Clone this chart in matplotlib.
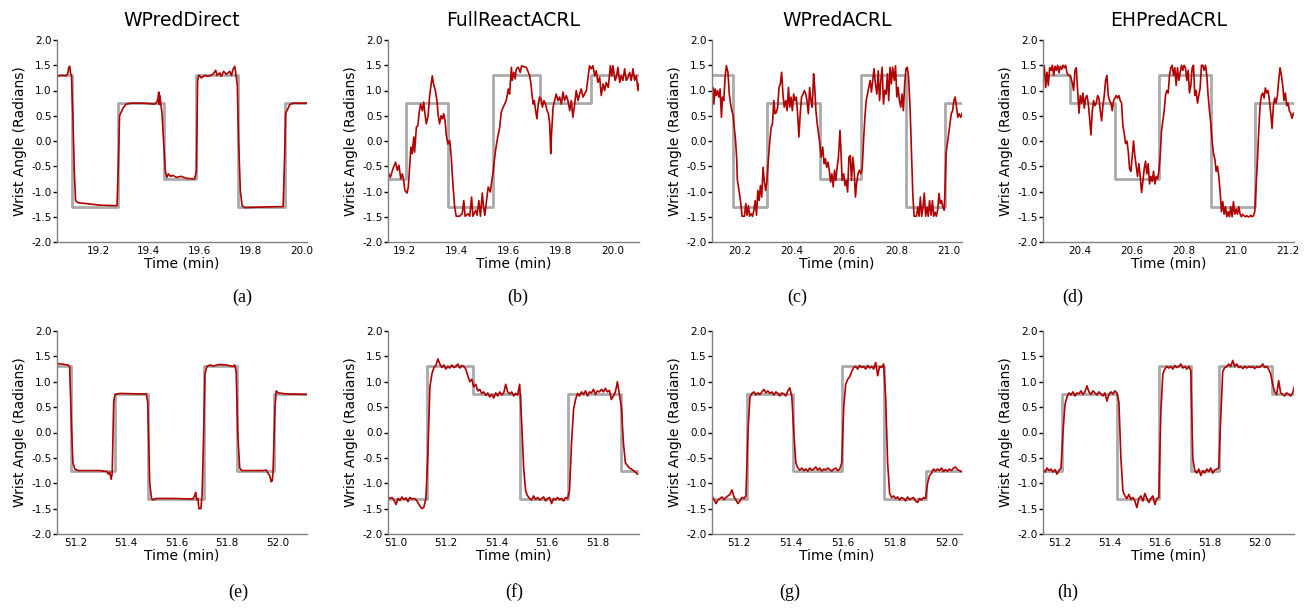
import numpy as np
import matplotlib
matplotlib.use("Agg")
import matplotlib.pyplot as plt
from matplotlib.ticker import FormatStrFormatter, MultipleLocator

# ---------------- data ----------------
titles = ["WPredDirect", "FullReactACRL", "WPredACRL", "EHPredACRL"]
sub_labels = ["(a)", "(b)", "(c)", "(d)", "(e)", "(f)", "(g)", "(h)"]

# (a)
a_time = [19.039, 19.056, 19.075, 19.081, 19.085, 19.089, 19.092, 19.096, 19.102, 19.107,
          19.112, 19.121, 19.154, 19.207, 19.259, 19.275, 19.280, 19.285, 19.292, 19.301,
          19.311, 19.331, 19.377, 19.423, 19.432, 19.436, 19.439, 19.441, 19.444, 19.448,
          19.452, 19.458, 19.465, 19.471, 19.477, 19.485, 19.495, 19.508, 19.528, 19.548,
          19.580, 19.587, 19.592, 19.597, 19.607, 19.620, 19.633, 19.652, 19.663, 19.668,
          19.679, 19.685, 19.694, 19.705, 19.718, 19.725, 19.731, 19.738, 19.743, 19.748,
          19.753, 19.760, 19.767, 19.777, 19.836, 19.902, 19.928, 19.933, 19.938, 19.945,
          19.954, 19.967, 20.022]
a_vals = [1.28, 1.30, 1.29, 1.33, 1.45, 1.48, 1.35, 1.28, 0.40, -0.60,
          -1.18, -1.22, -1.24, -1.27, -1.28, -1.28, -0.50, 0.50, 0.58, 0.67,
          0.73, 0.75, 0.75, 0.73, 0.77, 0.85, 0.97, 0.72, 0.90, 0.70,
          0.55, 0.00, -0.60, -0.72, -0.65, -0.70, -0.68, -0.72, -0.70, -0.74,
          -0.75, -0.60, 1.20, 1.30, 1.25, 1.30, 1.28, 1.32, 1.40, 1.30,
          1.35, 1.28, 1.38, 1.32, 1.38, 1.30, 1.42, 1.48, 1.30, 1.10,
          0.00, -1.00, -1.28, -1.32, -1.31, -1.30, -1.30, -0.50, 0.55, 0.62,
          0.72, 0.75, 0.75]
a_target_t = [19.039, 19.099, 19.279, 19.458, 19.587, 19.751, 19.934, 20.022]
a_target_v = [1.31, -1.31, 0.75, -0.75, 1.31, -1.31, 0.75, 0.75]

# (b)
b_time = [19.136, 19.145, 19.155, 19.165, 19.172, 19.178, 19.185, 19.191, 19.196, 19.201,
          19.209, 19.214, 19.219, 19.224, 19.229, 19.235, 19.238, 19.245, 19.251, 19.255,
          19.261, 19.268, 19.273, 19.278, 19.283, 19.290, 19.296, 19.300, 19.306, 19.311,
          19.318, 19.324, 19.329, 19.334, 19.340, 19.345, 19.350, 19.355, 19.360, 19.366,
          19.373, 19.379, 19.386, 19.392, 19.398, 19.411, 19.421, 19.427, 19.432, 19.443,
          19.450, 19.457, 19.462, 19.473, 19.478, 19.485, 19.491, 19.498, 19.503, 19.508,
          19.516, 19.521, 19.529, 19.534, 19.539, 19.543, 19.549, 19.555, 19.560, 19.565,
          19.571, 19.578, 19.584, 19.590, 19.598, 19.603, 19.610, 19.613, 19.619, 19.624,
          19.629, 19.636, 19.644, 19.649, 19.657, 19.667, 19.675, 19.680, 19.685, 19.690,
          19.694, 19.698, 19.703, 19.708, 19.713, 19.718, 19.724, 19.729, 19.735, 19.741,
          19.747, 19.752, 19.757, 19.761, 19.764, 19.770, 19.776, 19.782, 19.789, 19.795,
          19.802, 19.808, 19.814, 19.821, 19.827, 19.834, 19.840, 19.846, 19.853, 19.859,
          19.866, 19.872, 19.878, 19.885, 19.891, 19.898, 19.905, 19.910, 19.917, 19.923,
          19.930, 19.936, 19.942, 19.949, 19.955, 19.962, 19.968, 19.974, 19.982, 19.990,
          19.995, 20.000, 20.008, 20.013, 20.019, 20.026, 20.032, 20.038, 20.045, 20.051,
          20.058, 20.064, 20.070, 20.077, 20.083, 20.090, 20.096, 20.100]
b_vals = [-0.62, -0.72, -0.55, -0.42, -0.58, -0.48, -0.75, -0.65, -0.78, -0.98,
          -1.03, -0.91, -0.52, -0.12, -0.25, 0.08, -0.22, 0.27, 0.31, 0.54,
          0.73, 0.60, 0.77, 0.54, 0.34, 0.50, 0.90, 1.06, 1.29, 1.13,
          1.00, 0.80, 0.50, 0.34, 0.50, 0.44, 0.54, 0.41, 0.11, -0.06,
          0.01, -0.32, -0.91, -1.31, -1.49, -1.49, -1.44, -1.18, -1.49, -1.44,
          -1.49, -1.11, -1.49, -1.37, -1.47, -1.18, -1.49, -1.03, -1.31, -1.47,
          -1.11, -0.91, -1.01, -0.81, -0.65, -0.45, -0.19, 0.01, 0.14, 0.27,
          0.57, 0.67, 0.73, 0.80, 1.03, 0.93, 1.46, 1.20, 1.36, 1.23,
          1.43, 1.46, 1.36, 1.49, 1.47, 1.46, 1.36, 1.29, 1.13, 0.87,
          0.73, 0.80, 0.60, 0.44, 0.73, 0.87, 0.83, 0.67, 0.80, 0.73,
          0.60, 0.54, 0.34, -0.25, 0.14, 0.67, 0.80, 0.93, 0.80, 0.87,
          0.73, 0.97, 0.80, 0.90, 0.80, 0.60, 0.80, 0.47, 0.73, 1.00,
          0.80, 0.93, 1.03, 0.87, 0.93, 1.00, 1.29, 1.49, 1.43, 1.49,
          1.29, 1.39, 1.16, 1.26, 0.90, 1.13, 1.00, 1.16, 1.06, 1.49,
          1.29, 1.49, 1.20, 1.26, 1.46, 1.16, 1.29, 1.20, 1.43, 1.20,
          1.26, 1.36, 1.20, 1.43, 1.20, 1.29, 1.00, 1.13]
b_target_t = [19.136, 19.206, 19.366, 19.539, 19.718, 19.917, 20.100]
b_target_v = [-0.75, 0.75, -1.31, 1.31, 0.75, 1.31, 1.31]

# (c)
c_time = [20.095, 20.098, 20.102, 20.107, 20.111, 20.116, 20.121, 20.126, 20.131, 20.135,
          20.140, 20.145, 20.150, 20.156, 20.161, 20.166, 20.171, 20.176, 20.180, 20.185,
          20.189, 20.192, 20.196, 20.200, 20.205, 20.210, 20.219, 20.224, 20.229, 20.234,
          20.239, 20.244, 20.250, 20.255, 20.260, 20.265, 20.270, 20.275, 20.280, 20.285,
          20.290, 20.295, 20.300, 20.305, 20.310, 20.316, 20.321, 20.326, 20.331, 20.336,
          20.341, 20.346, 20.351, 20.356, 20.361, 20.366, 20.371, 20.377, 20.382, 20.387,
          20.392, 20.397, 20.402, 20.407, 20.412, 20.417, 20.422, 20.427, 20.432, 20.437,
          20.443, 20.448, 20.453, 20.458, 20.463, 20.468, 20.473, 20.478, 20.483, 20.487,
          20.492, 20.497, 20.502, 20.507, 20.512, 20.518, 20.523, 20.528, 20.533, 20.538,
          20.543, 20.548, 20.553, 20.558, 20.563, 20.568, 20.573, 20.578, 20.584, 20.587,
          20.592, 20.598, 20.603, 20.608, 20.613, 20.618, 20.623, 20.628, 20.633, 20.638,
          20.643, 20.648, 20.653, 20.658, 20.664, 20.669, 20.674, 20.679, 20.684, 20.689,
          20.694, 20.699, 20.704, 20.709, 20.714, 20.719, 20.725, 20.730, 20.735, 20.740,
          20.745, 20.750, 20.755, 20.760, 20.765, 20.770, 20.775, 20.780, 20.785, 20.791,
          20.796, 20.801, 20.806, 20.811, 20.816, 20.821, 20.826, 20.831, 20.836, 20.841,
          20.846, 20.852, 20.857, 20.862, 20.867, 20.876, 20.881, 20.886, 20.891, 20.896,
          20.901, 20.906, 20.911, 20.916, 20.921, 20.926, 20.932, 20.937, 20.942, 20.947,
          20.952, 20.957, 20.962, 20.967, 20.972, 20.977, 20.982, 20.985, 20.989, 20.994,
          20.999, 21.004, 21.009, 21.014, 21.019, 21.024, 21.029, 21.034, 21.039, 21.045,
          21.050]
c_vals = [0.80, 1.06, 0.73, 1.03, 0.90, 1.00, 0.87, 1.03, 0.47, 0.87,
          0.80, 1.26, 1.49, 1.36, 0.93, 0.73, 0.60, 0.50, 0.27, 0.01,
          -0.32, -0.78, -0.91, -1.04, -1.24, -1.49, -1.49, -1.24, -1.47, -1.28,
          -1.49, -1.44, -1.49, -1.37, -1.18, -1.47, -0.98, -1.18, -0.88, -1.11,
          -0.52, -0.81, -0.98, -0.78, -0.39, 0.01, 0.27, 0.34, 0.80, 0.54,
          0.57, 0.67, 1.06, 1.13, 1.36, 0.93, 0.67, 0.80, 0.60, 1.06,
          0.67, 0.87, 0.60, 0.93, 0.80, 0.87, 0.54, 0.08, 0.54, 0.87,
          0.93, 1.00, 0.93, 0.80, 0.54, 1.06, 0.80, 0.67, 1.33, 1.10,
          0.60, 0.34, 0.14, -0.06, -0.32, -0.12, -0.45, -0.35, -0.52, -0.42,
          -0.58, -0.81, -0.65, -0.91, -0.58, -0.78, -0.52, -0.32, 0.21, -0.12,
          -0.78, -0.65, -0.88, -0.78, -1.01, -0.32, -0.29, -0.78, -0.32, -0.58,
          -1.11, -0.81, -0.65, -0.58, -0.65, -0.52, 0.01, 0.47, 0.80, 0.93,
          1.06, 1.20, 0.97, 1.20, 1.43, 1.13, 0.93, 1.39, 0.80, 1.20,
          1.46, 0.73, 1.00, 0.93, 1.33, 0.80, 1.46, 1.13, 1.46, 1.20,
          1.49, 0.87, 1.06, 0.80, 0.67, 0.93, 0.60, 1.13, 1.43, 1.46,
          1.26, 0.60, -0.25, -1.04, -1.49, -1.49, -1.31, -1.49, -1.11, -1.49,
          -1.31, -1.03, -1.49, -1.31, -1.49, -1.18, -1.47, -1.18, -1.49, -1.41,
          -1.49, -1.37, -1.04, -1.24, -1.18, -1.31, -1.37, -0.98, -0.25, -0.06,
          0.14, 0.34, 0.54, 0.60, 0.80, 0.87, 0.67, 0.47, 0.54, 0.47,
          0.54]
c_target_t = [20.095, 20.177, 20.307, 20.507, 20.666, 20.835, 20.984, 21.050]
c_target_v = [1.31, -1.31, 0.75, -0.75, 1.31, -1.31, 0.75, 0.75]

# (d) sampled every d_dt minutes from d_t0
d_t0, d_dt = 20.260, 0.005104
d_vals = [1.23, 1.49, 1.06, 1.36, 1.10, 1.45, 1.40, 1.50, 1.30, 1.48,
          1.40, 1.50, 1.35, 1.48, 1.42, 1.50, 1.45, 1.50, 1.35, 1.30,
          1.30, 1.25, 1.15, 1.00, 1.40, 1.45, 1.00, 0.55, 0.90, 0.75,
          0.95, 0.65, 0.85, 0.90, 0.75, 0.45, 0.12, 0.60, 0.80, 0.70,
          0.75, 0.90, 0.85, 0.60, 0.40, 0.70, 0.90, 1.20, 1.30, 0.90,
          0.80, 0.75, 0.60, 0.80, 0.85, 0.90, 0.85, 0.90, 0.80, 0.75,
          0.30, 0.15, -0.05, 0.00, -0.20, -0.55, -0.60, -0.30, 0.00, -0.30,
          -0.50, -0.70, -0.45, -0.70, -1.02, -0.80, -0.55, -0.40, -0.65, -0.45,
          -0.85, -0.70, -0.80, -0.60, -0.85, -0.70, -0.75, -0.60, -0.30, 0.20,
          0.40, 0.60, 0.90, 1.00, 0.95, 1.30, 1.45, 1.50, 1.30, 1.45,
          1.10, 1.45, 1.20, 1.35, 1.50, 1.40, 1.50, 1.45, 1.20, 1.40,
          0.95, 1.10, 1.45, 1.50, 0.90, 1.00, 0.75, 0.90, 1.05, 1.50,
          1.50, 1.40, 1.50, 1.30, 0.90, 0.60, 0.35, 0.00, -0.25, -0.35,
          -0.60, -0.50, -0.70, -1.00, -1.40, -1.20, -1.45, -1.30, -1.50, -1.40,
          -1.50, -1.30, -1.50, -1.20, -1.45, -1.35, -1.45, -1.30, -1.45, -1.50,
          -1.45, -1.48, -1.50, -1.48, -1.50, -1.50, -1.47, -1.50, -1.48, -1.40,
          -0.90, -0.40, 0.20, 0.70, 0.90, 0.95, 0.85, 1.05, 0.95, 1.00,
          0.80, 0.55, 0.25, 0.70, 0.85, 0.75, 0.90, 1.20, 1.45, 1.30,
          1.10, 0.80, 0.95, 0.70, 0.75, 0.60, 0.55, 0.45, 0.55]
d_target_t = [20.260, 20.364, 20.537, 20.706, 20.904, 21.072, 21.222]
d_target_v = [1.31, 0.75, -0.75, 1.31, -1.31, 0.75, 0.75]

# (e)
e_time = [51.126, 51.170, 51.176, 51.183, 51.189, 51.197, 51.209, 51.295, 51.324, 51.330,
          51.335, 51.341, 51.345, 51.351, 51.356, 51.375, 51.454, 51.480, 51.486, 51.494,
          51.501, 51.507, 51.520, 51.586, 51.665, 51.672, 51.676, 51.680, 51.685, 51.689,
          51.697, 51.702, 51.708, 51.713, 51.721, 51.732, 51.745, 51.771, 51.798, 51.824,
          51.831, 51.837, 51.843, 51.851, 51.859, 51.943, 51.956, 51.963, 51.970, 51.976,
          51.980, 51.983, 51.991, 51.996, 52.004, 52.036, 52.118]
e_vals = [1.36, 1.33, 1.30, 0.20, -0.60, -0.72, -0.75, -0.75, -0.77, -0.82,
          -0.78, -0.92, -0.80, 0.60, 0.75, 0.77, 0.76, 0.76, 0.60, -1.00,
          -1.30, -1.33, -1.30, -1.30, -1.31, -1.25, -1.18, -1.32, -1.30, -1.50,
          -1.50, -1.20, 0.00, 1.15, 1.30, 1.33, 1.31, 1.34, 1.33, 1.30,
          1.33, 1.20, 0.00, -0.70, -0.75, -0.75, -0.74, -0.80, -0.85, -0.97,
          -0.95, -0.80, 0.50, 0.82, 0.78, 0.76, 0.75]
e_target_t = [51.126, 51.180, 51.355, 51.487, 51.708, 51.840, 51.989, 52.118]
e_target_v = [1.31, -0.75, 0.75, -1.31, 1.31, -0.75, 0.75, 0.75]

# (f)
f_t0, f_dt = 50.970, 0.007908
f_vals = [-1.27, -1.30, -1.28, -1.33, -1.42, -1.30, -1.34, -1.27, -1.32, -1.29,
          -1.36, -1.28, -1.31, -1.30, -1.32, -1.38, -1.45, -1.50, -1.47, -1.30,
          -0.40, 0.90, 1.15, 1.28, 1.32, 1.45, 1.35, 1.28, 1.33, 1.25,
          1.30, 1.27, 1.33, 1.28, 1.30, 1.35, 1.27, 1.32, 1.30, 1.25,
          1.12, 1.00, 1.05, 0.90, 0.95, 0.82, 0.85, 0.77, 0.80, 0.73,
          0.78, 0.70, 0.75, 0.68, 0.78, 0.72, 0.80, 0.74, 0.78, 0.95,
          0.80, 0.76, 0.80, 0.72, 0.77, 0.74, 0.95, 0.20, -0.70, -1.15,
          -1.25, -1.30, -1.33, -1.25, -1.32, -1.28, -1.33, -1.30, -1.27, -1.35,
          -1.30, -1.28, -1.40, -1.30, -1.33, -1.28, -1.32, -1.30, -1.35, -1.28,
          -1.30, -1.15, -0.20, 0.45, 0.65, 0.77, 0.72, 0.80, 0.75, 0.82,
          0.72, 0.80, 0.78, 0.85, 0.75, 0.82, 0.80, 0.85, 0.80, 0.87,
          0.80, 0.83, 0.65, 0.72, 0.80, 1.00, 0.75, 0.50, -0.20, -0.60,
          -0.65, -0.70, -0.72, -0.75, -0.78, -0.82]
f_target_t = [50.970, 51.124, 51.306, 51.494, 51.685, 51.892, 51.965]
f_target_v = [-1.31, 1.31, 0.75, -1.31, 0.75, -0.75, -0.75]

# (g)
g_t0, g_dt = 51.098, 0.00768
g_vals = [-1.25, -1.32, -1.40, -1.33, -1.30, -1.27, -1.32, -1.28, -1.25, -1.22,
          -1.13, -1.27, -1.33, -1.40, -1.35, -1.28, -1.30, -1.25, 0.00, 0.70,
          0.77, 0.80, 0.74, 0.78, 0.75, 0.80, 0.85, 0.78, 0.82, 0.77,
          0.80, 0.74, 0.80, 0.77, 0.72, 0.78, 0.76, 0.72, 0.82, 0.88,
          0.70, 0.00, -0.60, -0.70, -0.74, -0.70, -0.75, -0.72, -0.76, -0.70,
          -0.74, -0.72, -0.68, -0.74, -0.70, -0.76, -0.72, -0.74, -0.70, -0.73,
          -0.76, -0.72, -0.70, -0.75, -0.72, -0.60, 0.50, 0.95, 1.05, 1.10,
          1.20, 1.28, 1.30, 1.25, 1.32, 1.28, 1.30, 1.25, 1.32, 1.27,
          1.30, 1.25, 1.38, 1.12, 1.30, 1.28, 1.35, 0.70, -0.60, -1.20,
          -1.28, -1.25, -1.30, -1.27, -1.33, -1.28, -1.30, -1.35, -1.27, -1.32,
          -1.30, -1.28, -1.35, -1.38, -1.30, -1.33, -1.28, -1.30, -1.00, -0.85,
          -0.80, -0.72, -0.76, -0.72, -0.75, -0.70, -0.77, -0.73, -0.76, -0.72,
          -0.75, -0.70, -0.68, -0.73, -0.75, -0.77]
g_target_t = [51.098, 51.232, 51.409, 51.599, 51.761, 51.923, 52.060]
g_target_v = [-1.31, 0.75, -0.75, 1.31, -1.31, -0.75, -0.75]

# (h)
h_t0, h_dt = 51.134, 0.007973
h_vals = [-0.72, -0.78, -0.70, -0.75, -0.72, -0.78, -0.73, -0.82, -0.75, -0.70,
          0.00, 0.55, 0.70, 0.78, 0.74, 0.80, 0.72, 0.78, 0.76, 0.82,
          0.75, 0.80, 0.92, 0.80, 0.75, 0.82, 0.78, 0.74, 0.80, 0.76,
          0.72, 0.78, 0.62, 0.75, 0.80, 0.76, 0.82, 0.78, 0.60, -0.50,
          -1.15, -1.25, -1.30, -1.22, -1.32, -1.28, -1.35, -1.48, -1.30, -1.25,
          -1.35, -1.20, -1.30, -1.38, -1.30, -1.25, -1.42, -1.30, -1.28, 0.40,
          1.15, 1.25, 1.30, 1.27, 1.30, 1.25, 1.32, 1.28, 1.30, 1.35,
          1.27, 1.30, 1.25, 1.30, 1.22, -0.50, -0.75, -0.80, -0.72, -0.85,
          -0.75, -0.80, -0.72, -0.77, -0.70, -0.80, -0.74, -0.72, -0.70, 0.30,
          1.20, 1.28, 1.30, 1.35, 1.30, 1.42, 1.30, 1.35, 1.28, 1.30,
          1.26, 1.30, 1.27, 1.30, 1.28, 1.30, 1.26, 1.30, 1.28, 1.30,
          1.35, 1.28, 1.30, 1.25, 1.15, 0.95, 0.80, 0.75, 1.02, 0.78,
          0.75, 0.72, 0.78, 0.75, 0.72, 0.78, 0.92]
h_target_t = [51.134, 51.209, 51.429, 51.599, 51.724, 51.838, 52.050, 52.136]
h_target_v = [-0.75, 0.75, -1.31, 1.31, -0.75, 1.31, 0.75, 0.75]

xlims = [(19.039, 20.022), (19.136, 20.100), (20.095, 21.050), (20.260, 21.222),
         (51.126, 52.118), (50.970, 51.965), (51.098, 52.060), (51.134, 52.136)]


def sampled(t0, dt, vals):
    return t0 + dt * np.arange(len(vals)), vals


panels = [
    (a_time, a_vals, a_target_t, a_target_v),
    (b_time, b_vals, b_target_t, b_target_v),
    (c_time, c_vals, c_target_t, c_target_v),
    (*sampled(d_t0, d_dt, d_vals), d_target_t, d_target_v),
    (e_time, e_vals, e_target_t, e_target_v),
    (*sampled(f_t0, f_dt, f_vals), f_target_t, f_target_v),
    (*sampled(g_t0, g_dt, g_vals), g_target_t, g_target_v),
    (*sampled(h_t0, h_dt, h_vals), h_target_t, h_target_v),
]

# ---------------- layout ----------------
W, H = 1312, 610
fig = plt.figure(figsize=(W / 100, H / 100), dpi=100)

col_px = [(57, 307), (388, 639), (712, 962), (1043, 1294)]
row_px = [(40, 242), (331, 534)]
label_pos = [(242, 297), (518, 297), (797, 297), (1073, 297),
             (238, 592), (514, 592), (790, 592), (1068, 592)]

red = "#b00000"
grey = "#aaaaaa"

for i, (t, v, tt, tv) in enumerate(panels):
    r, c = divmod(i, 4)
    x0, x1 = col_px[c]
    y0, y1 = row_px[r]
    ax = fig.add_axes([x0 / W, 1 - y1 / H, (x1 - x0) / W, (y1 - y0) / H])
    n = min(len(t), len(v))
    ax.step(tt, tv, where="post", color=grey, lw=2.0, zorder=1)
    ax.plot(np.asarray(t)[:n], np.asarray(v)[:n], color=red, lw=1.2, zorder=2)
    ax.set_xlim(*xlims[i])
    ax.set_ylim(-2.0, 2.0)
    ax.yaxis.set_major_locator(MultipleLocator(0.5))
    ax.xaxis.set_major_locator(MultipleLocator(0.2))
    ax.yaxis.set_major_formatter(FormatStrFormatter("%.1f"))
    ax.xaxis.set_major_formatter(FormatStrFormatter("%.1f"))
    for s in ("top", "right"):
        ax.spines[s].set_visible(False)
    for s in ("left", "bottom"):
        ax.spines[s].set_color("#808080")
        ax.spines[s].set_linewidth(1.0)
    ax.tick_params(axis="y", direction="out", length=3, width=1.0, pad=1,
                   labelsize=7.5, color="black")
    ax.tick_params(axis="x", length=0, pad=3, labelsize=7.5)
    ax.set_ylabel("Wrist Angle (Radians)", fontsize=10, labelpad=3)
    ax.set_xlabel("Time (min)", fontsize=10, labelpad=0)
    if r == 0:
        ax.set_title(titles[c], fontsize=13.5, pad=10)

for lab, (px, py) in zip(sub_labels, label_pos):
    fig.text(px / W, 1 - py / H, lab, ha="center", va="center",
             family="Liberation Serif", fontsize=13)

fig.savefig("out.png", dpi=100)
